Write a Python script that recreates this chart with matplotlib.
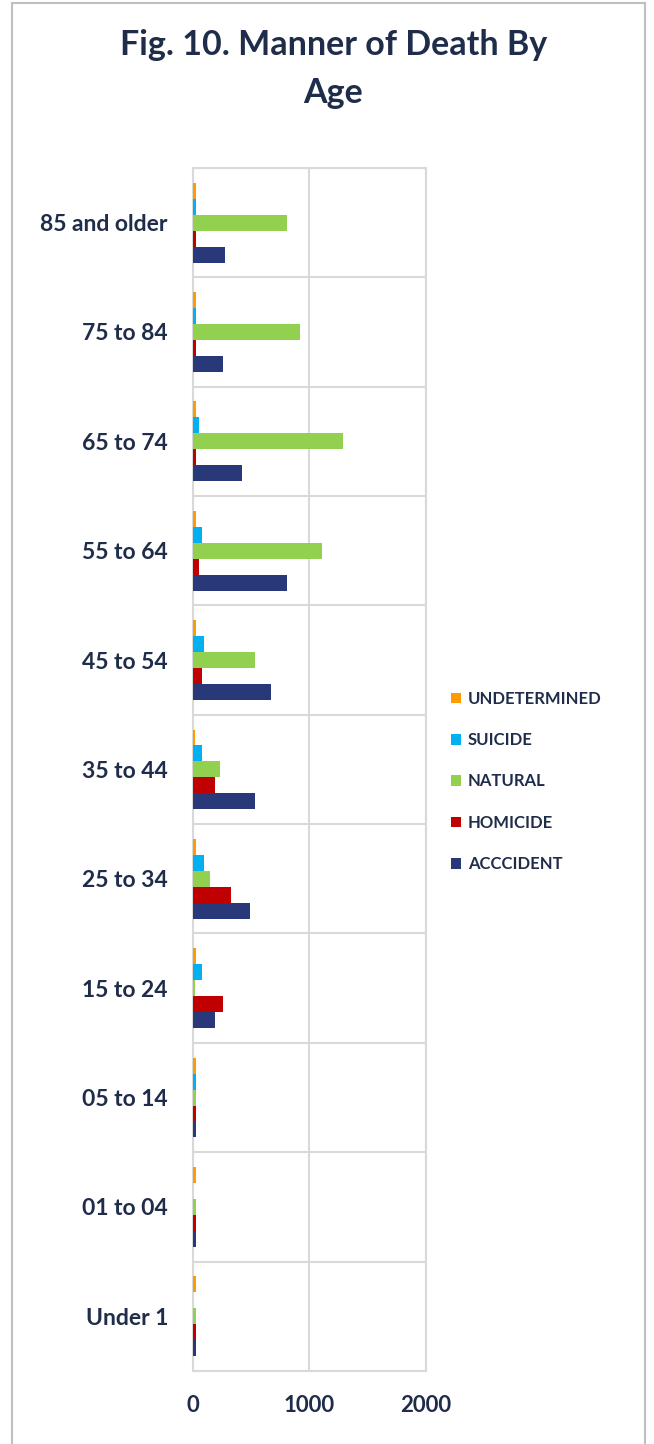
import numpy as np
import matplotlib.pyplot as plt
from matplotlib.patches import Rectangle

ages = ["Under 1", "01 to 04", "05 to 14", "15 to 24", "25 to 34", "35 to 44",
        "45 to 54", "55 to 64", "65 to 74", "75 to 84", "85 and older"]

undetermined = [26, 26, 28, 24, 24, 22, 24, 26, 26, 26, 26]
suicide = [0, 0, 25, 74, 97, 74, 97, 74, 52, 28, 28]
natural = [24, 24, 24, 20, 143, 235, 533, 1109, 1290, 922, 808]
homicide = [26, 26, 26, 258, 327, 189, 74, 52, 28, 26, 26]
accident = [24, 24, 24, 189, 487, 533, 670, 808, 418, 258, 278]

series = [("ACCCIDENT", accident, "#283878"),
          ("HOMICIDE", homicide, "#C00000"),
          ("NATURAL", natural, "#92D050"),
          ("SUICIDE", suicide, "#00B0F0"),
          ("UNDETERMINED", undetermined, "#FF9A00")]

txt = "#1F2D4A"
plt.rcParams['font.family'] = ['Lato', 'DejaVu Sans']
plt.rcParams['font.weight'] = 'bold'

fig = plt.figure(figsize=(6.54, 14.44), dpi=100)
ax = fig.add_axes([0.295, 0.0506, 0.356, 0.8331])

y = np.arange(len(ages))
h = 0.146
bars = []
for k, (name, vals, col) in enumerate(series):
    b = ax.barh(y + (k - 2) * h, vals, height=h, color=col, label=name, zorder=3)
    bars.append(b)

ax.set_xlim(0, 2000)
ax.set_ylim(-0.5, len(ages) - 0.5)
ax.set_xticks([0, 1000, 2000])
ax.set_yticks(y)
ax.set_yticklabels(ages)
ax.set_yticks(np.arange(-0.5, len(ages), 1), minor=True)
ax.grid(axis='x', color='#D9D9D9', linewidth=1.5, zorder=0)
ax.grid(axis='y', which='minor', color='#D9D9D9', linewidth=1.5, zorder=0)
ax.grid(axis='y', which='major', visible=False)
for s in ax.spines.values():
    s.set_color('#D9D9D9')
    s.set_linewidth(1.5)
ax.tick_params(axis='both', which='both', length=0)
ax.tick_params(axis='y', pad=18, labelsize=16.5, labelcolor=txt)
ax.tick_params(axis='x', pad=17, labelsize=16, labelcolor=txt)

fig.text(0.51, 0.952, "Fig. 10. Manner of Death By\nAge", ha='center', va='center',
         fontsize=24.5, fontweight='bold', color=txt, linespacing=1.62)

handles = bars[::-1]
leg = fig.legend(handles, [b.get_label() for b in handles], loc='upper left',
                 bbox_to_anchor=(0.666, 0.532), frameon=False, fontsize=12,
                 labelspacing=1.52, handlelength=0.6, handleheight=0.6,
                 handletextpad=0.45, labelcolor=txt)

fig.patches.append(Rectangle((0.018, -0.01), 0.968, 1.008, transform=fig.transFigure,
                             fill=False, edgecolor='#BFBFBF', linewidth=1.5))

fig.savefig('out.png', dpi=100, facecolor='white')
